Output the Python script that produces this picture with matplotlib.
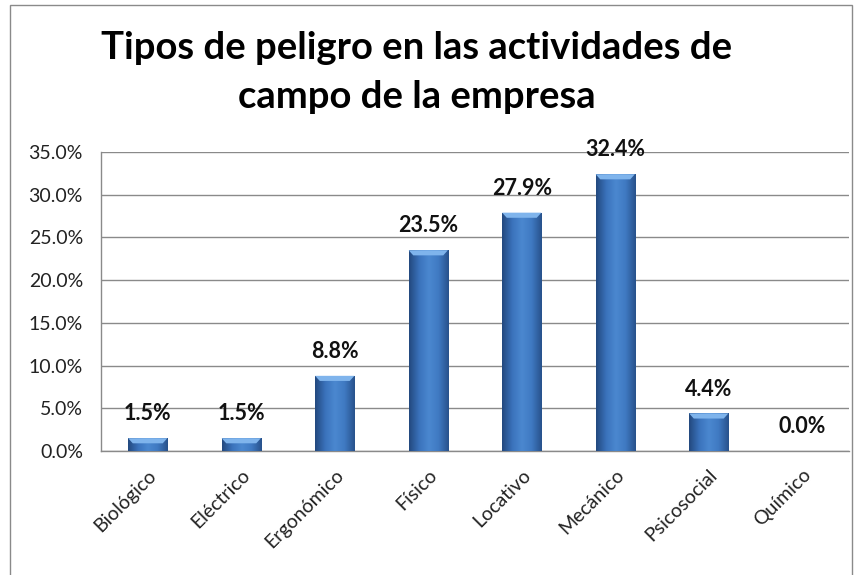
import numpy as np
import matplotlib
matplotlib.use("Agg")
import matplotlib.pyplot as plt
from matplotlib.patches import Rectangle, Polygon
from matplotlib.colors import LinearSegmentedColormap
from matplotlib.ticker import FuncFormatter, MultipleLocator

plt.rcParams['font.family'] = ['Lato', 'DejaVu Sans']

# data
categories = ['Biológico', 'Eléctrico', 'Ergonómico', 'Físico',
              'Locativo', 'Mecánico', 'Psicosocial', 'Químico']
values = [1.5, 1.5, 8.8, 23.5, 27.9, 32.4, 4.4, 0.0]
title_lines = ['Tipos de peligro en las actividades de', 'campo de la empresa']

W, H = 862, 575
fig = plt.figure(figsize=(W / 100, H / 100), dpi=100)
ax = fig.add_axes([101 / W, (H - 451) / H, 748 / W, 299 / H])

x = np.arange(len(categories))
bar_w = 0.42

# horizontal shading: dark edges, lighter middle
shade = LinearSegmentedColormap.from_list(
    'bar', ['#23497f', '#3a72bb', '#4b88d0', '#3f79c2', '#28528c'])
grad = np.linspace(0, 1, 64).reshape(1, -1)

bars = ax.bar(x, values, width=bar_w, color='#3a72bb', zorder=2)
cap_h = 0.6
for b, v in zip(bars, values):
    if v <= 0:
        continue
    x0 = b.get_x()
    im = ax.imshow(grad, cmap=shade, aspect='auto', zorder=3,
                   extent=[x0, x0 + bar_w, 0, v], interpolation='bicubic')
    im.set_clip_path(b)
    # lighter bevel on top of the bar
    ax.add_patch(Polygon([(x0, v), (x0 + bar_w, v),
                          (x0 + bar_w - 0.05, v - cap_h), (x0 + 0.05, v - cap_h)],
                         closed=True, color='#7fb4ec', zorder=4, lw=0))

for xi, v in zip(x, values):
    ax.annotate(f'{v:.1f}%', (xi, v), xytext=(0, 10), textcoords='offset points',
                ha='center', va='bottom', fontsize=15.5, fontweight='bold',
                color='#111111', zorder=5)

ax.set_xlim(-0.5, len(categories) - 0.5)
ax.set_ylim(0, 35)
ax.yaxis.set_major_locator(MultipleLocator(5))
ax.yaxis.set_major_formatter(FuncFormatter(lambda v, p: f'{v:.1f}%'))
ax.grid(axis='y', color='#8a8a8a', lw=1.0, zorder=0)
ax.set_axisbelow(True)

for s in ['top', 'right']:
    ax.spines[s].set_visible(False)
for s in ['left', 'bottom']:
    ax.spines[s].set_color('#8a8a8a')
    ax.spines[s].set_linewidth(1.0)

ax.set_xticks(x)
ax.set_xticklabels(categories, rotation=45, ha='right', rotation_mode='anchor')
ax.tick_params(axis='x', length=0, pad=11, labelsize=14, labelcolor='#222222')
ax.tick_params(axis='y', length=0, pad=13, labelsize=14, labelcolor='#222222')

# two-line title, each line placed on its own baseline
for line, base in zip(title_lines, [59, 108]):
    fig.text(417 / W, 1 - base / H, line, ha='center', va='baseline',
             fontsize=27.5, fontweight='bold')

# outer chart border
fig.patches.append(Rectangle((10 / W, -0.01), 842 / W, 1 - 5 / H + 0.01,
                             transform=fig.transFigure, fill=False,
                             ec='#8a8a8a', lw=1.0))

fig.savefig('out.png', dpi=100)
